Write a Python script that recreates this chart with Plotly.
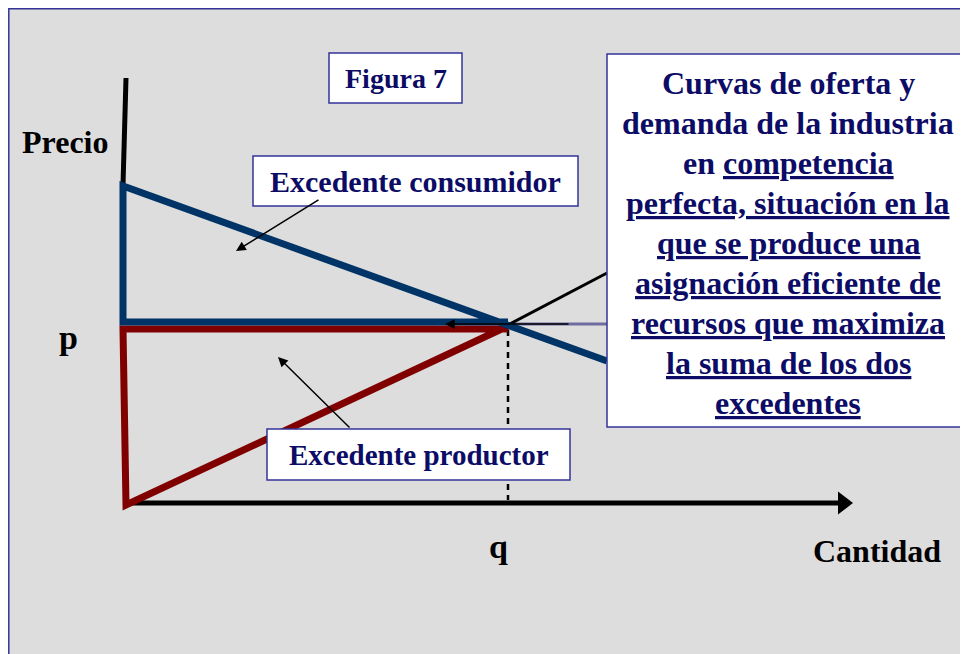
import plotly.graph_objects as go

# diagram points (canvas units, y grows downward)
eje_precio_x = [126, 123]
eje_precio_y = [78, 185]
eje_cant_x = [125, 838]
eje_cant_y = [503, 503]
punta_x = [843]
punta_y = [503]

demanda_x = [508, 123, 123, 607]
demanda_y = [322, 322, 186, 361]
oferta_x = [508, 123, 126, 508]
oferta_y = [329, 329, 505, 326]
oferta_ext_x = [508, 607]
oferta_ext_y = [325, 273]
precio_ext_x = [508, 607]
precio_ext_y = [324, 324]
guia_q_x = [508, 508]
guia_q_y = [330, 500]

# callout arrows: (head x, head y, tail x, tail y)
flechas = [(236, 251, 320, 199), (278, 357, 351, 429), (445, 324, 570, 324)]

# text boxes: (x0, y0, x1, y1, text, size)
cajas = [
    (329, 53, 462, 103, "Figura 7", 28),
    (253, 156, 578, 206, "Excedente consumidor", 30),
    (267, 429, 570, 480, "Excedente productor", 29),
]
caja_grande = (607, 54, 990, 427)
lineas = [
    "Curvas de oferta y",
    "demanda de la industria",
    "en <u>competencia</u>",
    "<u>perfecta, situación en la</u>",
    "<u>que se produce una</u>",
    "<u>asignación eficiente de</u>",
    "<u>recursos que maximiza</u>",
    "<u>la suma de los dos</u>",
    "<u>excedentes</u>",
]
etiquetas = [
    (65, 142, "Precio", 32),
    (68, 337, "p", 34),
    (498, 546, "q", 34),
    (877, 551, "Cantidad", 32),
]

FONT = "Liberation Serif, DejaVu Serif, serif"
NAVY = "#0c0c66"
BORDE = "#333399"

fig = go.Figure()

def linea(x, y, color, width, dash=None):
    fig.add_trace(go.Scatter(x=x, y=y, mode="lines", hoverinfo="skip",
                             line=dict(color=color, width=width, dash=dash)))

linea(precio_ext_x, precio_ext_y, "#6f6aa0", 3)
linea(eje_precio_x, eje_precio_y, "black", 5)
linea(eje_cant_x, eje_cant_y, "black", 5)
fig.add_trace(go.Scatter(x=punta_x, y=punta_y, mode="markers", hoverinfo="skip",
                         marker=dict(symbol="triangle-right", size=20, color="black")))
linea(guia_q_x, guia_q_y, "black", 2.5, "6px,5px")
linea(oferta_ext_x, oferta_ext_y, "black", 3)
linea(oferta_x, oferta_y, "#800000", 7)
linea(demanda_x, demanda_y, "#003366", 7)

# outer frame (kept just inside the visible window)
shapes = [dict(type="rect", x0=8.8, y0=8.8, x1=1000, y1=700, fillcolor="#dddddd",
               line=dict(color=BORDE, width=1.5), layer="below")]
annotations = []

for hx, hy, tx, ty in flechas:
    annotations.append(dict(x=hx, y=hy, ax=tx, ay=ty, xref="x", yref="y",
                            axref="x", ayref="y", text="", showarrow=True,
                            arrowhead=2, arrowsize=1.3, arrowwidth=1.5,
                            arrowcolor="black"))

for x0, y0, x1, y1, txt, size in cajas:
    shapes.append(dict(type="rect", x0=x0, y0=y0, x1=x1, y1=y1, fillcolor="white",
                       line=dict(color=BORDE, width=1.5), layer="above"))
    annotations.append(dict(x=(x0 + x1) / 2, y=(y0 + y1) / 2, text="<b>%s</b>" % txt,
                            showarrow=False, font=dict(family=FONT, size=size, color=NAVY)))

x0, y0, x1, y1 = caja_grande
shapes.append(dict(type="rect", x0=x0, y0=y0, x1=x1, y1=y1, fillcolor="white",
                   line=dict(color=BORDE, width=1.5), layer="above"))
for i, txt in enumerate(lineas):
    annotations.append(dict(x=788, y=83 + 40 * i, text="<b>%s</b>" % txt, showarrow=False,
                            font=dict(family=FONT, size=32, color=NAVY)))

for x, y, txt, size in etiquetas:
    annotations.append(dict(x=x, y=y, text="<b>%s</b>" % txt, showarrow=False,
                            font=dict(family=FONT, size=size, color="black")))

# the page body adds an 8px offset, so the visible window starts at 8
fig.update_layout(
    width=968, height=654, margin=dict(l=0, r=0, t=0, b=0),
    paper_bgcolor="white", plot_bgcolor="white", showlegend=False,
    xaxis=dict(range=[8, 976], visible=False, fixedrange=True),
    yaxis=dict(range=[662, 8], visible=False, fixedrange=True),
    shapes=shapes, annotations=annotations,
)

fig.write_html("out.html")
